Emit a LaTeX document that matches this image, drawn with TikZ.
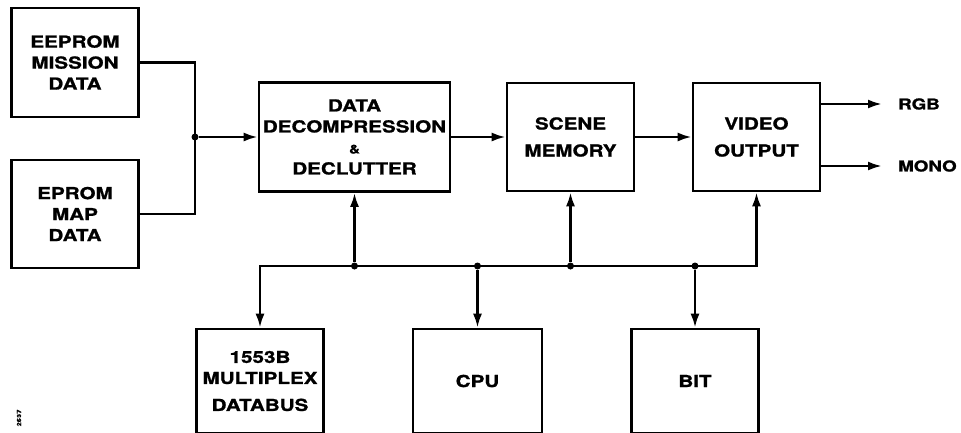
\documentclass[tikz,border=0pt]{standalone}
\usepackage{fontspec}
\setmainfont{TeX Gyre Heros}[FakeStretch=1.25, BoldFeatures={FakeBold=1.2}]
\usetikzlibrary{arrows.meta}

\begin{document}
\begin{tikzpicture}[
        x=1pt, y=-1pt,
        block/.style={draw, line width=2.6pt, align=center, inner sep=0pt,
                      minimum width=127pt, minimum height=108pt},
        lowblock/.style={block, minimum height=104pt},
        point/.style={circle, fill=black, minimum size=7pt, inner sep=0pt},
        wire/.style={line width=2.5pt},
        tip/.tip={Latex[length=14pt,width=9pt]},
        arrow/.style={-tip, wire},
        sigtext/.style={anchor=west, inner sep=0pt, font=\bfseries\fontsize{15}{18}\selectfont},
        every node/.style={font=\bfseries\fontsize{16.5}{21}\selectfont}
        ]
        \useasboundingbox (0,0) rectangle (961,432);
        % memories on the left
        \node[block, minimum height=109pt] (mission) at (75,62.5) {EEPROM\\MISSION\\DATA};
        \node[block] (map) at (75,214) {EPROM\\MAP\\DATA};
        % upper row
        \node[block, minimum width=191pt, minimum height=109pt] (decomp) at (354.5,137)
            {DATA\\DECOMPRESSION\\{\fontsize{12}{12}\selectfont\&}\\DECLUTTER};
        \node[block] (scene) at (570.5,137) {SCENE\\[6pt]MEMORY};
        \node[block] (video) at (756.5,137) {VIDEO\\[6pt]OUTPUT};
        \node[sigtext] (rgb) at (898,104) {RGB};
        \node[sigtext] (mono) at (898,166) {MONO};
        % lower row
        \node[lowblock] (bus) at (260,381) {1553B\\MULTIPLEX\\[6pt]DATABUS};
        \node[lowblock, minimum width=129pt] (cpu) at (477.5,381) {CPU};
        \node[lowblock] (bit) at (695,381) {BIT};
        \node[rotate=90, font=\bfseries\fontsize{6}{6}\selectfont] (fignum) at (19,418) {2637};

        \node[point] (join) at (195,137) {};
        \draw[wire] (mission.east) -| (join.center) |- (map.east);
        \draw[arrow] (join) -- (decomp.west);
        \draw[arrow] (decomp.east) -- (scene.west);
        \draw[arrow] (scene.east) -- (video.west);
        \draw[arrow, shorten >=16pt] (video.east |- rgb) -- (rgb.west);
        \draw[arrow, shorten >=16pt] (video.east |- mono) -- (mono.west);

        % shared bus
        \coordinate (busy) at (0,266);
        \draw[tip-tip, wire] (video.south) |- (busy -| bus.north) -- (bus.north);
        \foreach \n [count=\i] in {decomp, scene, cpu, bit}
            \node[point] (dot\i) at (busy -| \n) {};
        \draw[arrow] (dot1) -- (decomp);
        \draw[arrow] (dot2) -- (scene);
        \draw[arrow] (dot3) -- (cpu);
        \draw[arrow] (dot4) -- (bit);
    \end{tikzpicture}
\end{document}
